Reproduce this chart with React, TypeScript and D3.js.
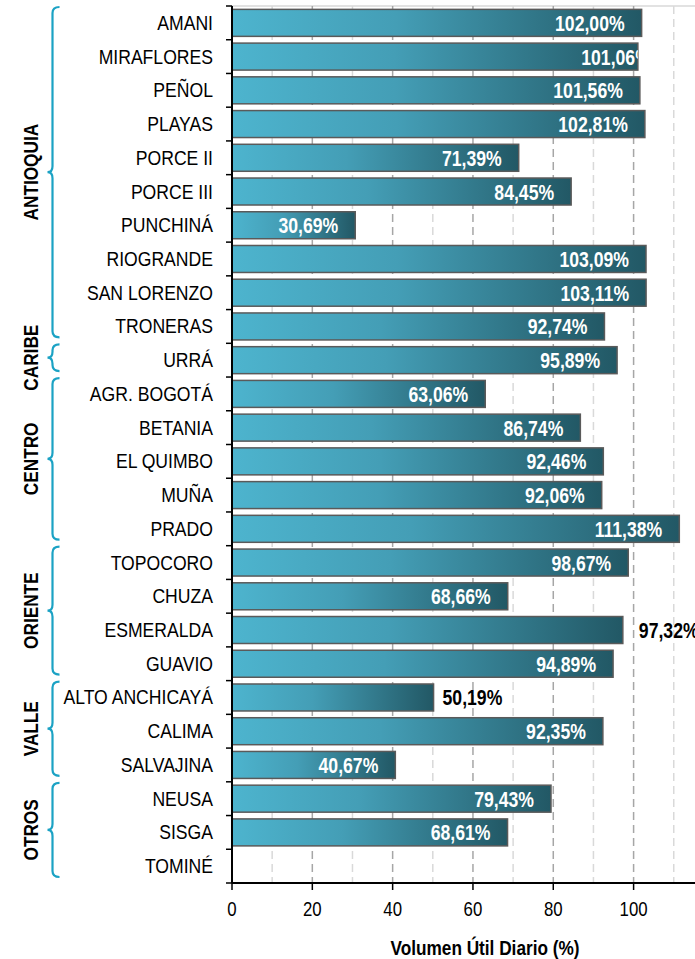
import React from 'react';
import * as d3 from 'd3';

// station names, top to bottom
const stations = [
  'AMANI', 'MIRAFLORES', 'PEÑOL', 'PLAYAS', 'PORCE II', 'PORCE III', 'PUNCHINÁ',
  'RIOGRANDE', 'SAN LORENZO', 'TRONERAS', 'URRÁ', 'AGR. BOGOTÁ', 'BETANIA',
  'EL QUIMBO', 'MUÑA', 'PRADO', 'TOPOCORO', 'CHUZA', 'ESMERALDA', 'GUAVIO',
  'ALTO ANCHICAYÁ', 'CALIMA', 'SALVAJINA', 'NEUSA', 'SISGA', 'TOMINÉ',
];

// volumen útil diario (%), null = no data
const volumes: (number | null)[] = [
  102.0, 101.06, 101.56, 102.81, 71.39, 84.45, 30.69,
  103.09, 103.11, 92.74, 95.89, 63.06, 86.74,
  92.46, 92.06, 111.38, 98.67, 68.66, 97.32, 94.89,
  50.19, 92.35, 40.67, 79.43, 68.61, null,
];

const regions = ['ANTIOQUIA', 'CARIBE', 'CENTRO', 'ORIENTE', 'VALLE', 'OTROS'];
const regionFirst = ['AMANI', 'URRÁ', 'AGR. BOGOTÁ', 'TOPOCORO', 'ALTO ANCHICAYÁ', 'NEUSA'];
const regionLast = ['TRONERAS', 'URRÁ', 'PRADO', 'GUAVIO', 'SALVAJINA', 'TOMINÉ'];

const xTicks = [0, 20, 40, 60, 80, 100];
const gridValues = [10, 20, 30, 40, 50, 60, 70, 80, 90, 100, 110, 120];

// labels drawn in black outside the bar
const outsideLabels = ['ALTO ANCHICAYÁ', 'ESMERALDA'];

const W = 695;
const H = 959;
const FONT = '"Liberation Sans", Arial, sans-serif';
const BRACE = '#1ba2c4';

const fmt = (v: number) => v.toFixed(2).replace('.', ',') + '%';

// text squeezed horizontally, like Arial Narrow
const NText = ({ x, y, rot = 0, sx = 0.82, children, ...rest }: any) => (
  <text transform={`translate(${x},${y})${rot ? ` rotate(${rot})` : ''} scale(${sx},1)`} {...rest}>
    {children}
  </text>
);

const bracePath = (x: number, y0: number, y1: number) => {
  const w = 7;
  const t = 5;
  const r = 6;
  const ym = (y0 + y1) / 2;
  return `M${x + w},${y0} Q${x},${y0} ${x},${y0 + r} L${x},${ym - r} Q${x},${ym} ${x - t},${ym} ` +
    `Q${x},${ym} ${x},${ym + r} L${x},${y1 - r} Q${x},${y1} ${x + w},${y1}`;
};

export default function App() {
  const left = 232;
  const top = 6;
  const bottom = 883;

  const x = d3.scaleLinear().domain([0, 125]).range([left, 734]);
  const y = d3.scaleBand<string>().domain(stations).range([top, bottom])
    .paddingInner(0.2).paddingOuter(0.1);
  const step = y.step();
  const bw = y.bandwidth();
  const pad = (step - bw) / 2;

  return (
    <svg width={W} height={H} style={{ position: 'absolute', left: 0, top: 0, background: '#fff' }}
      fontFamily={FONT}>
      <defs>
        <linearGradient id="barGrad" x1="0" x2="1" y1="0" y2="0">
          <stop offset="0" stopColor="#4db4ce" />
          <stop offset="0.4" stopColor="#449eb6" />
          <stop offset="1" stopColor="#225865" />
        </linearGradient>
        {stations.map((s, i) => {
          const v = volumes[i];
          if (v == null) return null;
          return (
            <clipPath key={s} id={`bc${i}`}>
              <rect x={x(0)} y={y(s)} width={x(v) - x(0)} height={bw} />
            </clipPath>
          );
        })}
      </defs>

      {/* top border of plot area */}
      <line x1={left} x2={W} y1={top} y2={top} stroke="#d9d9d9" strokeWidth={1.5} />

      {/* dashed gridlines */}
      {gridValues.map((g) => (
        <line key={g} x1={x(g)} x2={x(g)} y1={top} y2={bottom}
          stroke={g % 20 === 0 ? '#a6a6a6' : '#d9d9d9'} strokeWidth={1.5}
          strokeDasharray="8,5" />
      ))}

      {/* bars */}
      {stations.map((s, i) => {
        const v = volumes[i];
        if (v == null) return null;
        return (
          <rect key={s} x={x(0)} y={y(s)} width={x(v) - x(0)} height={bw}
            fill="url(#barGrad)" stroke="#5a5a5a" strokeWidth={1.5} />
        );
      })}

      {/* value labels */}
      {stations.map((s, i) => {
        const v = volumes[i];
        if (v == null) return null;
        const cy = (y(s) as number) + bw / 2;
        if (outsideLabels.includes(s)) {
          return (
            <NText key={s} x={x(v) + (s === 'ESMERALDA' ? 16 : 9)} y={cy + 8} fontSize={21.5}
              fontWeight="bold" fill="#000">{fmt(v)}</NText>
          );
        }
        const shift = s === 'MIRAFLORES' ? 13 : -17;
        return (
          <g key={s} clipPath={`url(#bc${i})`}>
            <NText x={x(v) + shift} y={cy + 8} fontSize={21.5} fontWeight="bold"
              fill="#fff" textAnchor="end">{fmt(v)}</NText>
          </g>
        );
      })}

      {/* y axis */}
      <line x1={left} x2={left} y1={top} y2={bottom} stroke="#000" strokeWidth={2} />
      {d3.range(stations.length + 1).map((k) => {
        const yy = top + k * step;
        return <line key={k} x1={left - 6} x2={left} y1={yy} y2={yy} stroke="#000" strokeWidth={1.5} />;
      })}
      {stations.map((s) => (
        <NText key={s} x={213} y={(y(s) as number) + bw / 2 + 7} fontSize={20} sx={0.88}
          textAnchor="end" fill="#000">{s}</NText>
      ))}

      {/* x axis */}
      <line x1={left} x2={W} y1={bottom} y2={bottom} stroke="#000" strokeWidth={2} />
      {xTicks.map((t) => (
        <g key={t}>
          <line x1={x(t)} x2={x(t)} y1={bottom} y2={bottom + 7} stroke="#000" strokeWidth={1.5} />
          <NText x={x(t)} y={916} fontSize={20.5} textAnchor="middle" fill="#000">{t}</NText>
        </g>
      ))}
      <NText x={(x(0) + x(125)) / 2 + 2} y={955} fontSize={21} fontWeight="bold" textAnchor="middle"
        fill="#000">Volumen Útil Diario (%)</NText>

      {/* region braces and names */}
      {regions.map((r, i) => {
        const y0 = (y(regionFirst[i]) as number) - pad + 1;
        const y1 = (y(regionLast[i]) as number) + bw + pad - 6;
        const ym = (y0 + y1) / 2;
        return (
          <g key={r}>
            <path d={bracePath(52.5, y0, y1)} fill="none" stroke={BRACE} strokeWidth={2.2} />
            <NText x={31} y={ym} rot={-90} fontSize={21} fontWeight="bold"
              textAnchor="middle" dominantBaseline="central" fill="#000">{r}</NText>
          </g>
        );
      })}
    </svg>
  );
}
